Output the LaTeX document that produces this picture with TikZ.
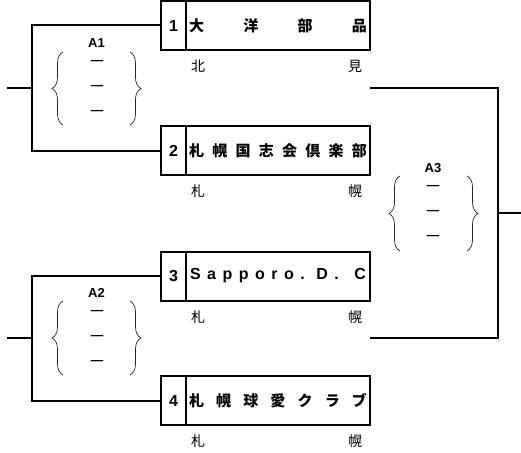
\documentclass[tikz,border=0pt]{standalone}
\usepackage{fontspec}
\setmainfont{Liberation Sans}
\newfontfamily\cjk{Noto Sans CJK JP}
\usetikzlibrary{decorations.pathreplacing}
\newcommand\spreadtxt[1]{\makebox[178pt][s]{#1}}
\begin{document}
\begin{tikzpicture}[x=1pt,y=-1pt,
 wire/.style={line width=2pt},
 numcell/.style={draw,line width=2pt,outer sep=0pt,minimum width=25pt,minimum height=49pt,inner sep=0pt,font=\fontsize{16}{16}\selectfont\bfseries},
 namecell/.style={draw,line width=2pt,outer sep=0pt,minimum width=184pt,minimum height=49pt,inner sep=0pt,anchor=west,font=\cjk\bfseries\fontsize{15}{15}\selectfont},
 sub/.style={font=\cjk\fontsize{14}{14}\selectfont,inner sep=0pt},
 lab/.style={font=\fontsize{13}{13}\selectfont\bfseries,inner sep=0pt},
 dsh/.style={font=\fontsize{12.5}{12.5}\selectfont\bfseries,inner sep=0pt},
 brc/.style={decorate,decoration={brace,amplitude=11pt},line width=0.7pt,black!85}
]
\useasboundingbox (0,0) rectangle (521,452);

% entry boxes
\node[numcell] (n1) at (173.5,25.5) {1};
\node[namecell] (t1) at (n1.east) {\spreadtxt{大\hfill 洋\hfill 部\hfill 品}};
\node[numcell] (n2) at (173.5,150.5) {2};
\node[namecell] (t2) at (n2.east) {\spreadtxt{札\hfill 幌\hfill 国\hfill 志\hfill 会\hfill 倶\hfill 楽\hfill 部}};
\node[numcell] (n3) at (173.5,276) {3};
\node[namecell,font=\bfseries\fontsize{16}{16}\selectfont] (t3) at (n3.east) {\makebox[176pt][s]{S\hfill a\hfill p\hfill p\hfill o\hfill r\hfill o\hfill .\hspace{5pt}\hfill D\hfill .\hspace{9pt}\hfill C}};
\node[numcell] (n4) at (173.5,400.5) {4};
\node[namecell] (t4) at (n4.east) {\spreadtxt{札\hfill 幌\hfill 球\hfill 愛\hfill ク\hfill ラ\hfill ブ}};

% sub labels
\node[sub] (s1a) at ([xshift=12pt,yshift=-16.5pt]t1.south west) {北};
\node[sub] (s1b) at ([xshift=-15pt,yshift=-16.5pt]t1.south east) {見};
\node[sub] (s2a) at ([xshift=12pt,yshift=-16.5pt]t2.south west) {札};
\node[sub] (s2b) at ([xshift=-15pt,yshift=-16.5pt]t2.south east) {幌};
\node[sub] (s3a) at ([xshift=12pt,yshift=-16.5pt]t3.south west) {札};
\node[sub] (s3b) at ([xshift=-15pt,yshift=-16.5pt]t3.south east) {幌};
\node[sub] (s4a) at ([xshift=12pt,yshift=-16.5pt]t4.south west) {札};
\node[sub] (s4b) at ([xshift=-15pt,yshift=-16.5pt]t4.south east) {幌};

% bracket A1
\coordinate (j1) at (32,88);
\coordinate (e1) at (7,88);
\draw[wire] (n1.west) -| (j1) |- (n2.west);
\draw[wire] (e1) -- (j1);
% bracket A2
\coordinate (j2) at (32,338.25);
\coordinate (e2) at (7,338.25);
\draw[wire] (n3.west) -| (j2) |- (n4.west);
\draw[wire] (e2) -- (j2);
% bracket A3
\coordinate (r1) at (t1.east |- j1);
\coordinate (r2) at (t4.east |- j2);
\coordinate (j3) at (498,213);
\coordinate (e3) at (521,213);
\draw[wire] (r1) -| (j3) |- (r2);
\draw[wire] (j3) -- (e3);

% A1 match box
\node[lab] (a1) at (96.5,43) {A1};
\node[dsh] (a1d1) at (97,63) {—};
\node[dsh] (a1d2) at (97,88) {—};
\node[dsh] (a1d3) at (97,113) {—};
\draw[brc] (63,125) -- (63,52);
\draw[brc] (130,52) -- (130,125);
% A2 match box
\node[lab] (a2) at (96.5,293) {A2};
\node[dsh] (a2d1) at (97,313) {—};
\node[dsh] (a2d2) at (97,338) {—};
\node[dsh] (a2d3) at (97,363) {—};
\draw[brc] (63,375) -- (63,301);
\draw[brc] (130,301) -- (130,375);
% A3 match box
\node[lab] (a3) at (433,168) {A3};
\node[dsh] (a3d1) at (433,188) {—};
\node[dsh] (a3d2) at (433,213) {—};
\node[dsh] (a3d3) at (433,238) {—};
\draw[brc] (400,251) -- (400,176);
\draw[brc] (467,176) -- (467,251);
\end{tikzpicture}
\end{document}
